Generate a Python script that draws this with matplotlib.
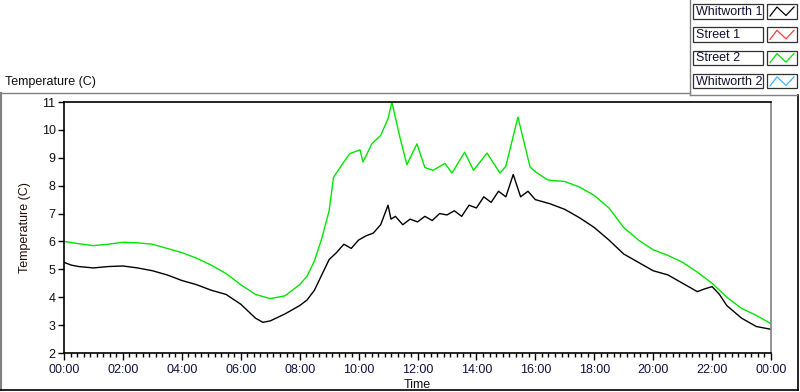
import numpy as np
import matplotlib
matplotlib.use("Agg")
import matplotlib.pyplot as plt
from matplotlib.patches import Rectangle

plt.rcParams["font.family"] = ["Liberation Sans", "DejaVu Sans"]

# ---- data ----
SERIES_NAMES = ["Whitworth 1", "Street 1", "Street 2", "Whitworth 2"]
SERIES_COLORS = ["#000000", "#ff3c3c", "#00e600", "#3cb4ff"]

# Street 2 (green), hours since midnight
street2_t = [0, 0.5, 1, 1.5, 2, 2.5, 3, 3.5, 4, 4.5, 5, 5.5, 6, 6.5, 7, 7.5,
             8, 8.25, 8.5, 8.75, 9.0, 9.15, 9.5, 9.7, 10.05, 10.15, 10.45,
             10.75, 11.0, 11.13, 11.4, 11.64, 11.98, 12.25, 12.53, 12.93,
             13.17, 13.6, 13.9, 14.36, 14.8, 15.0, 15.41, 15.82, 16.0, 16.43,
             17, 17.5, 18, 18.5, 19, 19.5, 20, 20.5, 21, 21.5, 22, 22.5, 23,
             23.5, 24]
street2_v = [6.0, 5.92, 5.85, 5.9, 5.97, 5.95, 5.9, 5.75, 5.6, 5.4, 5.15,
             4.85, 4.45, 4.1, 3.95, 4.05, 4.45, 4.75, 5.3, 6.1, 7.1, 8.3,
             8.85, 9.15, 9.28, 8.85, 9.5, 9.8, 10.4, 11.0, 9.75, 8.75, 9.5,
             8.65, 8.55, 8.8, 8.45, 9.2, 8.55, 9.17, 8.45, 8.7, 10.46, 8.67,
             8.5, 8.2, 8.15, 7.95, 7.65, 7.2, 6.5, 6.05, 5.7, 5.5, 5.25, 4.9,
             4.5, 4.0, 3.6, 3.35, 3.05]

# Whitworth 1 (black)
whit1_t = [0, 0.25, 0.5, 1, 1.5, 2, 2.5, 3, 3.5, 4, 4.5, 5, 5.5, 6, 6.5,
           6.75, 7, 7.5, 8, 8.25, 8.5, 8.75, 9, 9.25, 9.5, 9.75, 10, 10.25,
           10.5, 10.75, 11, 11.1, 11.25, 11.5, 11.75, 12, 12.25, 12.5, 12.75,
           13, 13.25, 13.5, 13.75, 14, 14.25, 14.5, 14.75, 15, 15.25, 15.5,
           15.75, 16, 16.5, 17, 17.5, 18, 18.5, 19, 19.5, 20, 20.5, 21, 21.5,
           21.75, 22, 22.25, 22.5, 23, 23.5, 24]
whit1_v = [5.25, 5.15, 5.1, 5.05, 5.1, 5.12, 5.05, 4.95, 4.8, 4.6, 4.45,
           4.25, 4.1, 3.75, 3.25, 3.1, 3.15, 3.4, 3.7, 3.9, 4.25, 4.8, 5.35,
           5.6, 5.9, 5.75, 6.05, 6.2, 6.3, 6.6, 7.3, 6.8, 6.9, 6.6, 6.8, 6.7,
           6.9, 6.75, 7.0, 6.95, 7.1, 6.9, 7.3, 7.2, 7.6, 7.4, 7.8, 7.6, 8.4,
           7.6, 7.8, 7.5, 7.35, 7.15, 6.85, 6.5, 6.05, 5.55, 5.25, 4.95, 4.8,
           4.5, 4.2, 4.3, 4.38, 4.1, 3.7, 3.25, 2.95, 2.85]

X_TICKS = list(range(0, 25, 2))
X_TICKLABELS = ["%02d:00" % (h % 24) for h in X_TICKS]
Y_TICKS = list(range(2, 12))

W, H = 800, 392
FS = 9
fig = plt.figure(figsize=(W / 100, H / 100), dpi=100)
fig.patch.set_facecolor("white")

# overlay in pixel coords for the panel frame and legend
ov = fig.add_axes([0, 0, 1, 1])
ov.set_xlim(0, W); ov.set_ylim(H, 0); ov.axis("off")
gray = "#808080"
ov.plot([0.5, 690], [92.5, 92.5], color=gray, lw=1)
ov.plot([0.5, 0.5], [92.5, 390], color=gray, lw=1.5)
ov.plot([0, 798], [390, 390], color="black", lw=1.2)
ov.plot([797.5, 797.5], [95, 390], color="black", lw=1.2)
ov.plot([690, 690], [0, 95], color=gray, lw=1)
ov.plot([690, 797], [95, 95], color=gray, lw=1)

ov.text(5, 82, "Temperature (C)", fontsize=FS, ha="left", va="center",
        color="#101010")

# legend
for i, (name, col) in enumerate(zip(SERIES_NAMES, SERIES_COLORS)):
    y0 = 4 + i * 23.3
    ov.add_patch(Rectangle((693, y0), 70, 14.5, fill=False,
                           edgecolor="#303030", lw=0.9))
    ov.text(695.5, y0 + 7.8, name, fontsize=FS, ha="left", va="center",
            color="#101030")
    ov.add_patch(Rectangle((767, y0), 30, 14.5, fill=False,
                           edgecolor="#303030", lw=0.9))
    ov.plot([770, 777, 786, 794], [y0 + 12, y0 + 3, y0 + 11.5, y0 + 3],
            color=col, lw=0.9)

# main plot
ax = fig.add_axes([64 / W, (H - 353) / H, (771 - 64) / W, (353 - 102) / H])
ax.plot(street2_t, street2_v, color=SERIES_COLORS[2], lw=1.0)
ax.plot(whit1_t, whit1_v, color=SERIES_COLORS[0], lw=1.0)

ax.set_xlim(0, 24)
ax.set_ylim(2, 11)
ax.set_xticks(X_TICKS)
ax.set_xticklabels(X_TICKLABELS)
ax.set_xticks(np.arange(0, 24.01, 2 / 9), minor=True)
ax.set_yticks(Y_TICKS)
ax.tick_params(axis="x", which="major", length=5, width=1, direction="out",
               labelsize=FS, labelcolor="#101040", pad=3)
ax.tick_params(axis="x", which="minor", length=3, width=1, direction="out")
ax.tick_params(axis="y", length=4, width=1, direction="out", labelsize=FS,
               labelcolor="#101010", pad=2)
for s in ["left", "bottom", "top"]:
    ax.spines[s].set_color("black")
    ax.spines[s].set_linewidth(1.2)
ax.spines["right"].set_color(gray)
ax.spines["right"].set_linewidth(1.2)

ax.set_xlabel("Time", fontsize=FS, labelpad=2, color="#101010")
ax.set_ylabel("Temperature (C)", fontsize=FS, labelpad=8, color="#2a0a0a")

fig.savefig("out.png", dpi=100)
